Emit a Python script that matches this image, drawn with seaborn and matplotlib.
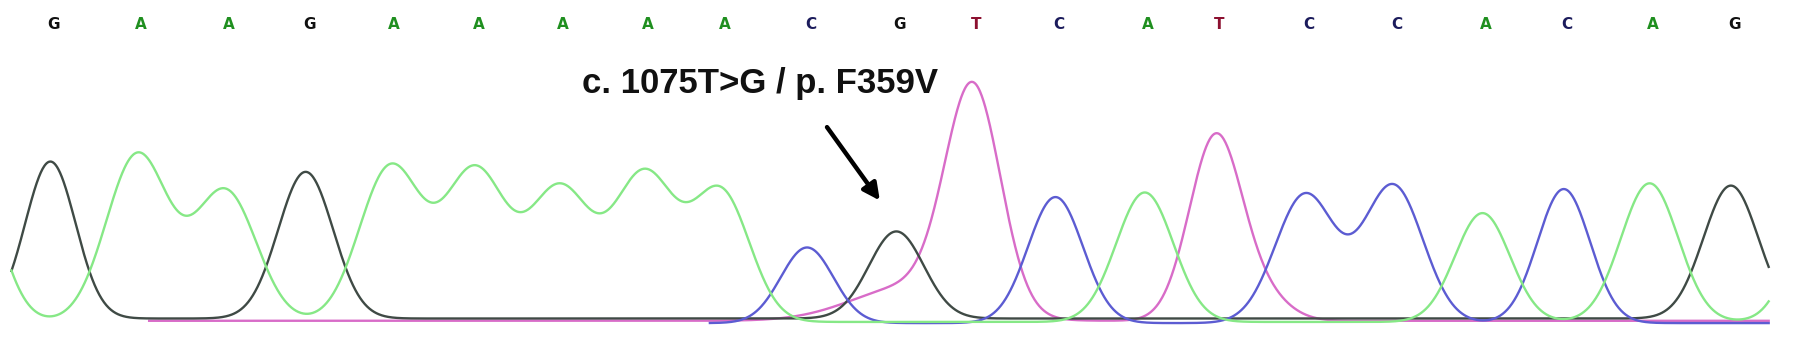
import numpy as np
import pandas as pd
import matplotlib
matplotlib.use("Agg")
import matplotlib.pyplot as plt
import seaborn as sns

# base calls and fitted peaks (x in scan units, height in signal units)
base_calls = list("GAAGAAAAACGTCATCCACAG")
call_pos = [44, 120, 197, 267, 341, 415, 489, 563, 630, 705, 783, 850,
            922, 1000, 1062, 1140, 1217, 1295, 1366, 1441, 1512]
peak_height = [137, 146, 114, 128, 135, 131, 115, 128, 112, 66, 76, 192,
               110, 113, 161, 112, 120, 95, 117, 121, 116]
peak_width = [22, 27, 27, 24, 27, 27, 27, 27, 25, 23, 24, 24,
              24, 25, 23, 26, 26, 24, 23, 25, 24]

# peaks outside the window and shoulders
extra_base = ["A", "A", "T", "T"]
extra_pos = [-25, 1592, 795, 1105]
extra_height = [130, 122, 30, 18]
extra_width = [24, 24, 50, 22]

channel_offset = {"G": 0.0, "A": -3.0, "C": -4.0, "T": -2.0}
channel_start = {"G": 10, "A": 10, "C": 620, "T": 130}
trace_colors = {"T": "#d86cc8", "G": "#3f4a45", "C": "#5c5cd2", "A": "#86e886"}
letter_colors = {"G": "#111111", "A": "#1f8f1f", "C": "#1c1c5c", "T": "#8c1030"}

label = "c. 1075T>G / p. F359V"

scan = np.linspace(10, 1545, 3000)
rows = []
for b in ["T", "G", "C", "A"]:
    sig = np.full_like(scan, channel_offset[b])
    for bb, p, h, w in zip(base_calls + extra_base, call_pos + extra_pos,
                           peak_height + extra_height, peak_width + extra_width):
        if bb == b:
            sig += h * np.exp(-(scan - p) ** 2 / (2 * w ** 2))
    keep = scan >= channel_start[b]
    rows.append(pd.DataFrame({"scan": scan[keep], "signal": sig[keep], "base": b}))
df = pd.concat(rows, ignore_index=True)

fig = plt.figure(figsize=(17.95, 3.46), dpi=100)
ax = fig.add_axes([0, 0, 1, 1])
sns.lineplot(data=df, x="scan", y="signal", hue="base", hue_order=["T", "G", "C", "A"],
             palette=trace_colors, estimator=None, sort=False, lw=1.7, legend=False, ax=ax)

for b, p in zip(base_calls, call_pos):
    ax.text(p + 3, 257, b, ha="center", va="center", fontsize=11, fontweight="bold",
            color=letter_colors[b], family="DejaVu Sans")

ax.text(664, 205, label, ha="center", va="center", fontsize=25, fontweight="bold",
        family="Liberation Sans", color="#111111")
ax.annotate("", xy=(770, 101), xytext=(721, 169),
            arrowprops=dict(arrowstyle="-|>,head_length=1.0,head_width=0.5", lw=3.2, color="black"))

ax.set_xlim(0, 1568)
ax.set_ylim(-24, 278)
ax.axis("off")
fig.savefig("out.png", dpi=100, facecolor="white")
